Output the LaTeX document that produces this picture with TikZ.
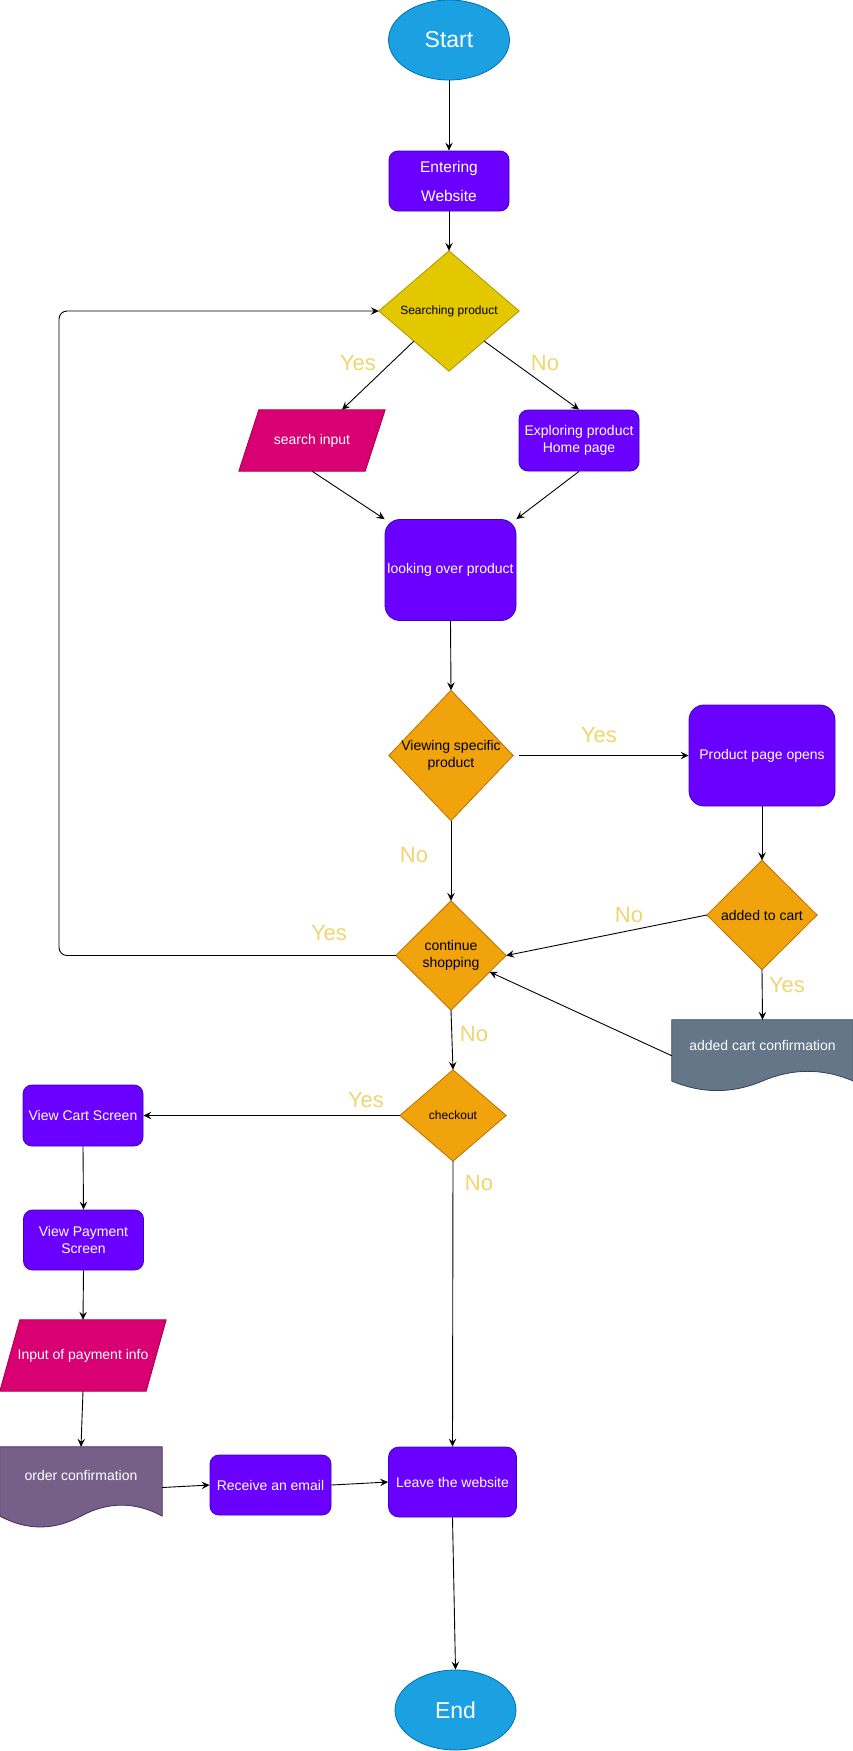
\documentclass[tikz,border=0pt]{standalone}
\usepackage{fontspec}
\setmainfont{Liberation Sans}
\usetikzlibrary{shapes.geometric,arrows.meta,calc}
\pgfdeclarelayer{background}
\pgfsetlayers{background,main}

\definecolor{termfill}{HTML}{1BA1E2}
\definecolor{termline}{HTML}{006EAF}
\definecolor{procfill}{HTML}{6A00FF}
\definecolor{procline}{HTML}{3700CC}
\definecolor{srchfill}{HTML}{E3C800}
\definecolor{srchline}{HTML}{B09500}
\definecolor{decfill}{HTML}{F0A30A}
\definecolor{decline}{HTML}{BD7000}
\definecolor{iofill}{HTML}{D80073}
\definecolor{ioline}{HTML}{A50040}
\definecolor{docfill}{HTML}{647687}
\definecolor{docline}{HTML}{314354}
\definecolor{ordfill}{HTML}{76608A}
\definecolor{ordline}{HTML}{432D57}
\definecolor{answer}{RGB}{240,214,110}

% diamond outline drawn around an invisible frame node
\newcommand\diamondpath[3]{%
  \filldraw[fill=#2, draw=#3, line width=0.8pt] (#1.north) -- (#1.east) -- (#1.south) -- (#1.west) -- cycle;}
% slanted input/output box
\newcommand\parapath[3]{%
  \filldraw[fill=#2, draw=#3, line width=0.8pt] ([xshift=20pt]#1.north west) -- (#1.north east)
    -- ([xshift=-20pt]#1.south east) -- (#1.south west) -- cycle;}
% document shape: #4 = width/6, #5 = dy/2, #6 = 1.1 dy, #7 = 0.1 dy
\newcommand\docpath[7]{%
  \filldraw[fill=#2, draw=#3, line width=0.8pt] (#1.north west) -- (#1.north east)
    -- ([yshift=#5pt]#1.south east)
    .. controls ([xshift=-#4pt,yshift=#6pt]#1.south east) and ([xshift=#4pt,yshift=#6pt]#1.south) .. ([yshift=#5pt]#1.south)
    .. controls ([xshift=-#4pt,yshift=-#7pt]#1.south) and ([xshift=#4pt,yshift=-#7pt]#1.south west) .. ([yshift=#5pt]#1.south west)
    -- cycle;}

\begin{document}
\begin{tikzpicture}[x=1pt, y=-1pt,
  txt/.style={inner sep=0pt, align=center, font=\fontsize{14}{17}\selectfont},
  frame/.style={txt, rectangle, text=white},
  decision/.style={txt, rectangle, text=black},
  proc/.style={frame, draw=procline, fill=procfill, line width=0.8pt},
  terminal/.style={ellipse, inner sep=0pt, draw=termline, fill=termfill, line width=0.8pt,
    minimum width=121pt, minimum height=80pt, text=white, font=\fontsize{23}{27}\selectfont},
  answer/.style={inner sep=0pt, text=answer, font=\fontsize{22}{26}\selectfont},
  link/.style={-{Stealth[length=8pt,width=7.5pt,inset=3pt]}, line width=0.9pt, black}]

\begin{pgfonlayer}{background}
  \fill[white] (0,0) rectangle (853,1751);
\end{pgfonlayer}
\useasboundingbox (0,0) rectangle (853,1751);

% ---- nodes ----
\node[terminal] (start) at (449,40) {Start};
\node[proc, minimum width=120pt, minimum height=60pt, rounded corners=9pt,
  font=\fontsize{15.5}{29}\selectfont] (enter) at (449,181) {Entering\\Website};
\node[decision, minimum width=140pt, minimum height=120pt, font=\fontsize{12}{14}\selectfont]
  (srch) at (449,311) {Searching product};
\node[frame, minimum width=146pt, minimum height=61pt] (sinput) at (312,440.5) {search input};
\node[proc, minimum width=120pt, minimum height=61pt, rounded corners=9pt]
  (explore) at (579,440.5) {Exploring product\\Home page};
\node[proc, minimum width=131pt, minimum height=101pt, rounded corners=15pt]
  (look) at (450.5,570) {looking over product};
\node[decision, minimum width=124pt, minimum height=130pt] (view) at (451,755.5) {Viewing specific\\product};
\node[proc, minimum width=146pt, minimum height=101pt, rounded corners=15pt]
  (ppage) at (762,755.5) {Product page opens};
\node[decision, minimum width=110pt, minimum height=109pt] (added) at (762,915) {added to cart};
\node[decision, minimum width=110pt, minimum height=109pt] (cont) at (451,955.5) {continue\\shopping};
\node[frame, minimum width=181pt, minimum height=71.5pt] (acc) at (762.5,1055.75) {};
\node[frame] (acctext) at ([yshift=10.75pt]acc.center) {added cart confirmation};
\node[decision, minimum width=106pt, minimum height=91pt, font=\fontsize{12}{14}\selectfont]
  (chk) at (453,1115.5) {checkout};
\node[proc, minimum width=120pt, minimum height=61pt, rounded corners=9pt]
  (vcart) at (83,1115.5) {View Cart Screen};
\node[proc, minimum width=120pt, minimum height=60pt, rounded corners=9pt]
  (vpay) at (83.5,1240) {View Payment\\Screen};
\node[frame, minimum width=166pt, minimum height=71pt] (pinfo) at (83,1355.5) {Input of payment info};
\node[frame, minimum width=162pt, minimum height=81pt] (ocf) at (81,1487.5) {};
\node[frame] (ocftext) at ([yshift=12pt]ocf.center) {order confirmation};
\node[proc, minimum width=121pt, minimum height=60pt, rounded corners=9pt]
  (email) at (270.5,1485) {Receive an email};
\node[proc, minimum width=128pt, minimum height=70pt, rounded corners=10.5pt]
  (leave) at (452.5,1482) {Leave the website};
\node[terminal] (end) at (455.5,1710) {End};

% ---- outlines of the drawn shapes ----
\begin{pgfonlayer}{background}
  \diamondpath{srch}{srchfill}{srchline}
  \diamondpath{view}{decfill}{decline}
  \diamondpath{added}{decfill}{decline}
  \diamondpath{cont}{decfill}{decline}
  \diamondpath{chk}{decfill}{decline}
  \parapath{sinput}{iofill}{ioline}
  \parapath{pinfo}{iofill}{ioline}
  \docpath{acc}{docfill}{docline}{30.2}{10.7}{23.6}{2.1}
  \docpath{ocf}{ordfill}{ordline}{27}{12.15}{26.7}{2.4}
\end{pgfonlayer}

% ---- connectors ----
\coordinate (loopx) at (59,0);
\draw[link] (start) -- (enter);
\draw[link] (enter) -- (srch.north);
\draw[link] ($(srch.west)!0.5!(srch.south)$) -- ([xshift=30pt]sinput.north);
\draw[link] ($(srch.east)!0.5!(srch.south)$) -- (explore.north);
\draw[link] (sinput.south) -- (look.north west);
\draw[link] (explore.south) -- (look.north east);
\draw[link] (look.south) -- (view.north);
\draw[link, shorten <=6pt] (view.east) -- (ppage.west);
\draw[link] (view.south) -- (cont.north);
\draw[link] (ppage.south) -- (added.north);
\draw[link] (added.west) -- (cont.east);
\draw[link] (added.south) -- (acc.north);
\draw[link] (acc.west) -- ($(cont.east)!0.3!(cont.south)$);
\draw[link, rounded corners=8pt] (cont.west) -| (loopx |- srch.west) -- (srch.west);
\draw[link] (cont.south) -- (chk.north);
\draw[link] (chk.west) -- (vcart.east);
\draw[link] (chk.south) -- (leave.north);
\draw[link] (vcart.south) -- (vpay.north);
\draw[link] (vpay.south) -- (pinfo.north);
\draw[link] (pinfo.south) -- (ocf.north);
\draw[link] (ocf.east) -- (email.west);
\draw[link] (email.east) -- (leave.west);
\draw[link] (leave.south) -- (end.north);

% ---- branch answers ----
\node[answer] (a1) at (358,363) {Yes};
\node[answer] (a2) at (545,363) {No};
\node[answer] (a3) at (599,735) {Yes};
\node[answer] (a4) at (414,855) {No};
\node[answer] (a5) at (629,915) {No};
\node[answer] (a6) at (787,985) {Yes};
\node[answer] (a7) at (329,933) {Yes};
\node[answer] (a8) at (474,1034) {No};
\node[answer] (a9) at (366,1100) {Yes};
\node[answer] (a10) at (479,1183) {No};
\end{tikzpicture}
\end{document}
